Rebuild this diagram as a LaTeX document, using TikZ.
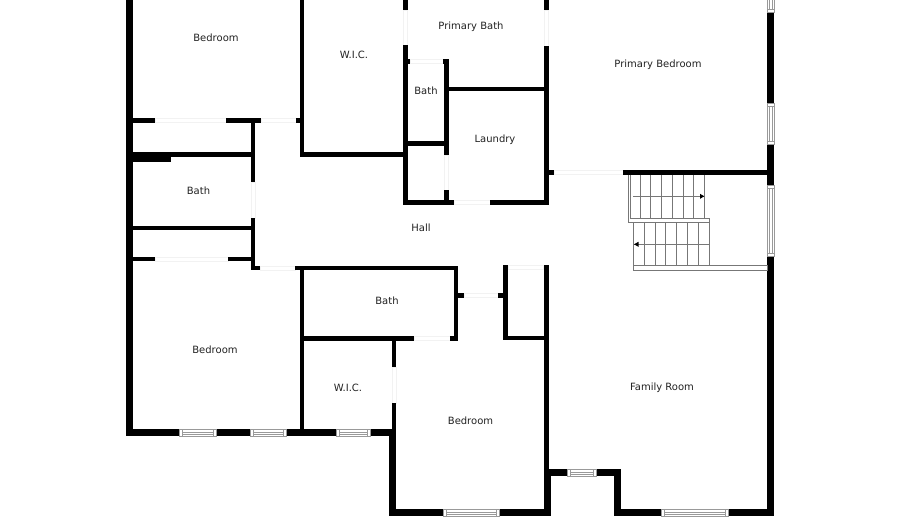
\documentclass[tikz,border=0pt]{standalone}
\usepackage{fontspec}
\setmainfont{DejaVu Sans}
\definecolor{lab}{HTML}{222222}
\definecolor{thr}{HTML}{F2F2F2}
\definecolor{rail}{HTML}{777777}
\definecolor{winline}{HTML}{999999}
\tikzset{
  roomlabel/.style={font=\fontsize{10}{12}\selectfont, text=lab, inner sep=0pt, anchor=center},
  wallfill/.style={fill=black, draw=none},
  doorsill/.style={draw=thr, fill=white, line width=0.7pt},
  winframe/.style={draw=winline, fill=white, line width=0.7pt},
  winpane/.style={draw=winline, line width=0.5pt},
  railline/.style={draw=rail, line width=0.8pt},
  treadline/.style={draw=rail, line width=0.8pt},
  stairtip/.style={fill=black, draw=none}
}
\newcommand{\wl}[4]{\path[wallfill] (#1,#2) rectangle (#3,#4);}
\newcommand{\ds}[4]{\path[doorsill] (#1,#2) rectangle (#3,#4);}
% horizontal window: x1 y1 x2 y2
\newcommand{\hw}[4]{%
  \path[winframe] (#1,#2) rectangle (#3,#4);
  \draw[winpane] (#1+3,#2) -- (#1+3,#4) (#3-3,#2) -- (#3-3,#4);
  \draw[winpane] (#1+3,#2+2.1) -- (#3-3,#2+2.1) (#1+3,#4-2.1) -- (#3-3,#4-2.1);}
% vertical window
\newcommand{\vw}[4]{%
  \path[winframe] (#1,#2) rectangle (#3,#4);
  \draw[winpane] (#1,#2+3) -- (#3,#2+3) (#1,#4-3) -- (#3,#4-3);
  \draw[winpane] (#1+2.1,#2+3) -- (#1+2.1,#4-3) (#3-2.1,#2+3) -- (#3-2.1,#4-3);}
\begin{document}
\begin{tikzpicture}[x=1pt,y=-1pt]
\useasboundingbox (0,0) rectangle (900,529);
\fill[white] (0,0) rectangle (900,529);
% door sills
\ds{155}{118.5}{226}{122.5}
\ds{261}{118.5}{296}{122.5}
\ds{155}{257}{228}{261}
\ds{260}{266.5}{295}{270}
\ds{251}{182}{255}{218}
\ds{403.5}{10}{407.5}{46}
\ds{544.5}{10}{548.5}{46}
\ds{410}{59.5}{443}{63.5}
\ds{444.5}{155}{448.5}{190}
\ds{454}{200.5}{490}{204.5}
\ds{554}{170.5}{623}{174.5}
\ds{464}{293.5}{498}{297.5}
\ds{414}{336.5}{450}{340.5}
\ds{508}{265.5}{543}{269.5}
\ds{392}{367}{396}{403}
% outer left and bottom walls
\wl{126}{0}{133}{436}
\wl{126}{429.3}{179.5}{436}
\wl{216}{429.3}{250}{436}
\wl{286.5}{429.3}{336}{436}
\wl{370}{429.3}{396}{436}
\wl{389.3}{429.3}{396}{516}
\wl{389.3}{509.3}{443.3}{516}
\wl{499}{509.3}{551}{516}
\wl{544.3}{469.3}{551}{516}
\wl{544.3}{469.3}{567.7}{476}
\wl{596}{469.3}{621}{476}
\wl{614.3}{469.3}{621}{516}
\wl{614.3}{509.3}{661}{516}
\wl{728.5}{509.3}{774}{516}
% right wall
\wl{767.3}{12}{774}{103.3}
\wl{767.3}{144}{774}{185}
\wl{767.3}{256}{774}{516}
% upper left partitions
\wl{133}{118}{155.3}{123}
\wl{225.7}{118}{261}{123}
\wl{296}{118}{302}{123}
\wl{300}{0}{304.3}{156.7}
\wl{300}{152.3}{407}{156.7}
\wl{133}{152.3}{171}{161.7}
\wl{171}{152.3}{253}{156.7}
\wl{250.7}{118}{255.3}{182.3}
\wl{250.7}{217.7}{255.3}{270.5}
\wl{133}{225.7}{251}{230.3}
\wl{133}{256.7}{155.3}{261.5}
\wl{227.7}{256.7}{251}{261.5}
\wl{251}{266}{259.5}{270.5}
\wl{295}{266}{458.3}{270.5}
% baths, laundry
\wl{403.3}{0}{408}{10}
\wl{403.3}{45}{408}{204.7}
\wl{403.3}{59.3}{410}{64}
\wl{443.3}{59.3}{449.3}{64}
\wl{444.3}{59.3}{449}{155}
\wl{444.3}{190}{449}{204.7}
\wl{449}{86.7}{545}{91.3}
\wl{408}{141.3}{445}{146}
\wl{403.3}{200}{454.3}{204.7}
\wl{490}{200}{548.7}{204.7}
\wl{544.3}{0}{548.7}{10}
\wl{544.3}{46}{548.7}{204.7}
\wl{548}{170.3}{553.7}{175}
\wl{623}{170}{768}{175.3}
% lower centre
\wl{300}{266}{304.3}{436}
\wl{300}{336}{414.3}{340.7}
\wl{449.7}{336}{458.3}{340.7}
\wl{453.7}{266}{458.3}{340.7}
\wl{458}{293.3}{463.5}{298}
\wl{498.3}{293.3}{504}{298}
\wl{503}{265.3}{508.3}{340.5}
\wl{503}{336}{546}{340.5}
\wl{543.5}{265.3}{548.5}{470}
\wl{391.7}{336}{396}{367}
\wl{391.7}{402.7}{396}{436}
% windows
\hw{179.5}{429.7}{216}{436}
\hw{250}{429.7}{286.5}{436}
\hw{336}{429.7}{370}{436}
\hw{443.3}{509.7}{499}{516}
\hw{567.7}{469.7}{596}{476}
\hw{661}{509.7}{728.5}{516}
\vw{767.6}{-4}{774}{12}
\vw{767.6}{103.3}{774}{144}
\vw{767.6}{185}{774}{256}
% stairs: upper flight
\draw[railline] (628.3,175) -- (628.3,222.7) -- (709.3,222.7) -- (709.3,218) -- (630.7,218) -- (630.7,175);
\foreach \tx in {640,650.7,661.3,672,683,693.7,704.3}
  \draw[treadline] (\tx,175) -- (\tx,218);
\draw[treadline] (633.3,196.3) -- (704.3,196.3);
\path[stairtip] (704.3,196.3) -- (700,193.8) -- (700,198.8) -- cycle;
% stairs: lower flight
\foreach \tx in {633.3,644.3,655,665.7,676.3,687.3,698.3,709}
  \draw[treadline] (\tx,222.7) -- (\tx,265.3);
\draw[treadline] (633.3,244.3) -- (709,244.3);
\path[stairtip] (634,244.3) -- (638.5,241.8) -- (638.5,246.8) -- cycle;
\draw[railline] (633.3,265.3) rectangle (767.3,270.3);
% labels
\node[roomlabel] (bedA) at (216,38) {Bedroom};
\node[roomlabel] (wicA) at (354,55) {W.I.C.};
\node[roomlabel] (pbath) at (471,27) {Primary Bath};
\node[roomlabel] (bathA) at (426,91) {Bath};
\node[roomlabel] (laundry) at (495,140) {Laundry};
\node[roomlabel] (pbed) at (658,65) {Primary Bedroom};
\node[roomlabel] (bathB) at (198.5,191) {Bath};
\node[roomlabel] (hall) at (421,228) {Hall};
\node[roomlabel] (bedB) at (215,350) {Bedroom};
\node[roomlabel] (bathC) at (387,301) {Bath};
\node[roomlabel] (wicB) at (348,388) {W.I.C.};
\node[roomlabel] (bedC) at (470.5,421) {Bedroom};
\node[roomlabel] (family) at (662,388) {Family Room};
\end{tikzpicture}
\end{document}
